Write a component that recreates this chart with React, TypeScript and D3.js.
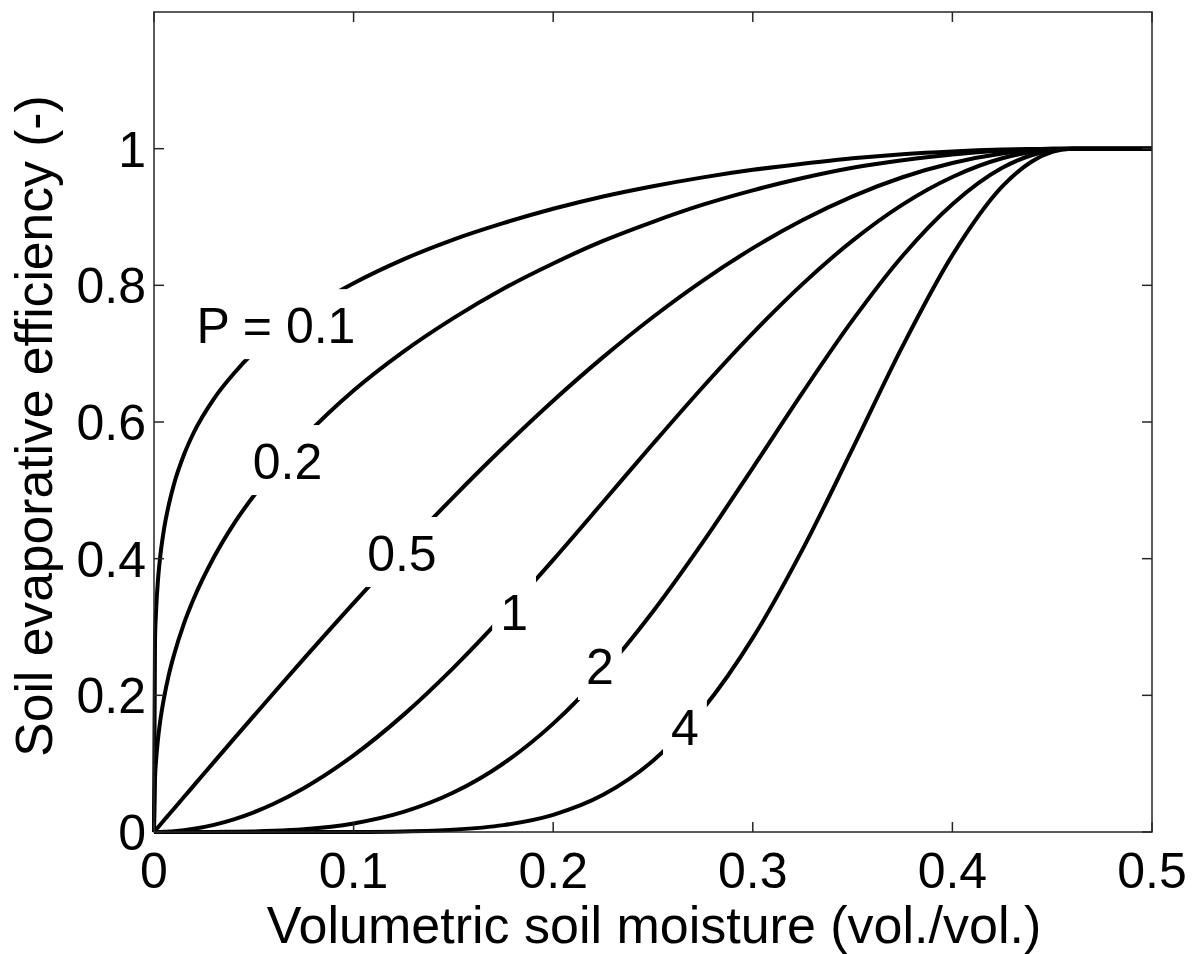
import React from "react";
import * as d3 from "d3";

// Volumetric soil moisture samples (vol./vol.)
const theta = [0, 0.0005, 0.001, 0.002, 0.003, 0.005, 0.0075, 0.01, 0.015, 0.02, 0.03, 0.04, 0.05, 0.06, 0.075, 0.1, 0.125, 0.15, 0.175, 0.2, 0.225, 0.25, 0.275, 0.3, 0.325, 0.35, 0.375, 0.4, 0.425, 0.44, 0.45, 0.46, 0.5];

// Soil evaporative efficiency for each P
const effP01 = [0, 0.28, 0.321, 0.369, 0.4, 0.443, 0.48, 0.509, 0.552, 0.585, 0.634, 0.671, 0.702, 0.727, 0.76, 0.803, 0.838, 0.867, 0.891, 0.912, 0.93, 0.945, 0.958, 0.969, 0.978, 0.986, 0.992, 0.996, 0.9986, 0.9995, 0.9999, 1, 1];
const effP02 = [0, 0.078, 0.103, 0.136, 0.16, 0.196, 0.231, 0.259, 0.305, 0.342, 0.402, 0.451, 0.492, 0.528, 0.577, 0.646, 0.703, 0.752, 0.795, 0.832, 0.865, 0.893, 0.918, 0.939, 0.957, 0.972, 0.983, 0.9916, 0.9972, 0.9991, 0.9998, 1, 1];
const effP05 = [0, 0.0017, 0.0034, 0.0068, 0.0102, 0.0171, 0.0256, 0.0341, 0.0512, 0.0682, 0.1023, 0.1362, 0.1699, 0.2035, 0.2533, 0.3349, 0.414, 0.4901, 0.5626, 0.6311, 0.6949, 0.7537, 0.807, 0.8544, 0.8956, 0.9303, 0.9582, 0.979, 0.9929, 0.9977, 0.9994, 1, 1];
const effP1 = [0, 0.0000029, 0.0000117, 0.0000467, 0.000105, 0.000292, 0.000656, 0.001166, 0.002621, 0.004657, 0.010458, 0.018542, 0.02887, 0.041396, 0.064164, 0.112137, 0.1714, 0.24022, 0.31657, 0.39827, 0.48293, 0.56809, 0.65126, 0.73004, 0.80211, 0.86544, 0.91816, 0.95853, 0.9859, 0.99538, 0.99884, 1, 1];
const effP2 = [0, 0, 0, 0, 0, 0.0000001, 0.0000004, 0.0000014, 0.0000069, 0.0000217, 0.000109, 0.000344, 0.000833, 0.001714, 0.004117, 0.012575, 0.02938, 0.05771, 0.10022, 0.15862, 0.23322, 0.32273, 0.42414, 0.53296, 0.64338, 0.74899, 0.84302, 0.91878, 0.972, 0.99078, 0.99768, 1, 1];
const effP4 = [0, 0, 0, 0, 0, 0, 0, 0, 0, 0, 0, 0, 0.0000007, 0.0000029, 0.000017, 0.000158, 0.000863, 0.00333, 0.010044, 0.02516, 0.05439, 0.10415, 0.1799, 0.28405, 0.41394, 0.56099, 0.71068, 0.84416, 0.94478, 0.98165, 0.99536, 1, 1];

const seriesValues = [effP01, effP02, effP05, effP1, effP2, effP4];

// Inline curve labels (text, anchor in data units: centre x, baseline y)
const labelText = ["P = 0.1", "0.2", "0.5", "1", "2", "4"];
const labelTheta = [0.0611, 0.0669, 0.1242, 0.1804, 0.2234, 0.266];
const labelEff = [0.7154, 0.5165, 0.3819, 0.2955, 0.2165, 0.1273];

const xTicks = [0, 0.1, 0.2, 0.3, 0.4, 0.5];
const yTicks = [0, 0.2, 0.4, 0.6, 0.8, 1];

const W = 1193;
const H = 954;
const M = { left: 154, top: 12, right: 41, bottom: 122 };
const FONT = "'Liberation Sans', Arial, Helvetica, sans-serif";
const FS = 50;

function measure(text: string, size: number) {
  const c = document.createElement("canvas").getContext("2d");
  if (!c) return text.length * size * 0.55;
  c.font = `${size}px 'Liberation Sans', Arial, sans-serif`;
  return c.measureText(text).width;
}

export default function App() {
  const x = d3.scaleLinear().domain([0, 0.5]).range([M.left, W - M.right]);
  const y = d3.scaleLinear().domain([0, 1.2]).range([H - M.bottom, M.top]);
  const line = d3
    .line<number>()
    .x((_, i) => x(theta[i]))
    .y((d) => y(d))
    .curve(d3.curveMonotoneX);

  const x0 = M.left;
  const x1 = W - M.right;
  const y0 = H - M.bottom;
  const y1 = M.top;
  const tick = 10;
  const axisColor = "#262626";

  return (
    <svg
      width={W}
      height={H}
      style={{ position: "absolute", left: 0, top: 0, display: "block", background: "#fff" }}
      fontFamily={FONT}
    >
      <rect x={0} y={0} width={W} height={H} fill="#fff" />
      <g>
        {seriesValues.map((vals, i) => (
          <path
            key={i}
            d={line(vals) || ""}
            fill="none"
            stroke="#000"
            strokeWidth={4}
            strokeLinejoin="round"
          />
        ))}
      </g>
      <g>
        {labelText.map((t, i) => {
          const w = measure(t, FS);
          const cx = x(labelTheta[i]);
          const by = y(labelEff[i]);
          return (
            <g key={i}>
              <rect x={cx - w / 2 - 8} y={by - 36 - 18} width={w + 16} height={36 + 34} fill="#fff" />
              <text x={cx} y={by} textAnchor="middle" fontSize={FS} fill="#000">
                {t}
              </text>
            </g>
          );
        })}
      </g>
      <g stroke={axisColor} strokeWidth={1.5} fill="none">
        <rect x={x0} y={y1} width={x1 - x0} height={y0 - y1} />
        {xTicks.map((v, i) => (
          <g key={"xt" + i}>
            <line x1={x(v)} x2={x(v)} y1={y0} y2={y0 - tick} />
            <line x1={x(v)} x2={x(v)} y1={y1} y2={y1 + tick} />
          </g>
        ))}
        {yTicks.map((v, i) => (
          <g key={"yt" + i}>
            <line x1={x0} x2={x0 + tick} y1={y(v)} y2={y(v)} />
            <line x1={x1} x2={x1 - tick} y1={y(v)} y2={y(v)} />
          </g>
        ))}
      </g>
      <g fontSize={FS} fill="#000">
        {xTicks.map((v, i) => (
          <text key={"xl" + i} x={x(v)} y={y0 + 56} textAnchor="middle">
            {String(v)}
          </text>
        ))}
        {yTicks.map((v, i) => (
          <text key={"yl" + i} x={x0 - 8} y={y(v) + 18} textAnchor="end">
            {String(v)}
          </text>
        ))}
      </g>
      <text x={(x0 + x1) / 2 + 1} y={943} textAnchor="middle" fontSize={52} fill="#000">
        Volumetric soil moisture (vol./vol.)
      </text>
      <text
        transform={`translate(52, 426) rotate(-90)`}
        textAnchor="middle"
        fontSize={51.6}
        fill="#000"
      >
        Soil evaporative efficiency (-)
      </text>
    </svg>
  );
}
